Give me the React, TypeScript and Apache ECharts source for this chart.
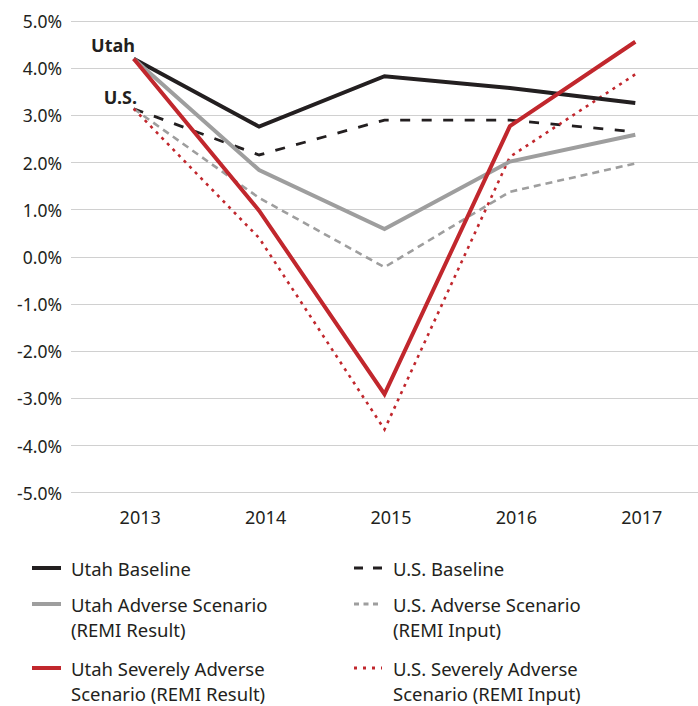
import React, { useEffect, useRef } from "react";
import * as echarts from "echarts";

const years = ["2013", "2014", "2015", "2016", "2017"];
const utahBaseline = [4.2, 2.76, 3.83, 3.58, 3.26];
const usBaseline = [3.14, 2.16, 2.9, 2.9, 2.65];
const utahAdverse = [4.2, 1.84, 0.59, 2.02, 2.59];
const usAdverse = [3.14, 1.25, -0.22, 1.38, 1.98];
const utahSevere = [4.2, 0.98, -2.91, 2.77, 4.56];
const usSevere = [3.14, 0.4, -3.66, 2.12, 3.87];

const yTicks = { min: -5, max: 5, step: 1 };

const legendLeft = ["Utah Baseline", "Utah Adverse Scenario\n(REMI Result)", "Utah Severely Adverse\nScenario (REMI Result)"];
const legendRight = ["U.S. Baseline", "U.S. Adverse Scenario\n(REMI Input)", "U.S. Severely Adverse\nScenario (REMI Input)"];

const BLACK = "#231f20";
const GRAY = "#9e9e9e";
const RED = "#c1272d";
const FONT = "'Noto Sans', sans-serif";

export default function App() {
  const ref = useRef<HTMLDivElement>(null);
  useEffect(() => {
    if (!ref.current) return;
    const chart = echarts.init(ref.current, null, { renderer: "svg" });
    const styles = [
      { name: legendLeft[0], data: utahBaseline, color: BLACK, width: 4, dash: "solid" as any },
      { name: legendLeft[1], data: utahAdverse, color: GRAY, width: 4, dash: "solid" as any },
      { name: legendLeft[2], data: utahSevere, color: RED, width: 4, dash: "solid" as any },
      { name: legendRight[0], data: usBaseline, color: BLACK, width: 2.8, dash: [10, 11.5] },
      { name: legendRight[1], data: usAdverse, color: GRAY, width: 2.6, dash: [7, 5] },
      { name: legendRight[2], data: usSevere, color: RED, width: 2.6, dash: [3, 5] },
    ];
    const order = [3, 4, 5, 0, 1, 2];
    const series = order.map((i) => {
      const s = styles[i];
      return {
        type: "line",
        name: s.name,
        data: s.data,
        symbol: "none",
        z: i < 3 ? 3 : 2,
        lineStyle: { color: s.color, width: s.width, type: s.dash, cap: "butt", join: "miter" },
      };
    });

    const legendGraphics: any[] = [];
    const rowsY = [568, 604, 668];
    const sample = (x1: number, x2: number, y: number, s: any) => ({
      type: "line",
      shape: { x1, y1: y, x2, y2: y },
      style: { stroke: s.color, lineWidth: s.dash === "solid" ? 4 : 3, lineDash: s.dash === "solid" ? null : s.dash },
    });
    const legendDash = [null, null, null, [9, 10], [5, 4.5], [3, 6]];
    for (let r = 0; r < 3; r++) {
      const y = rowsY[r];
      legendGraphics.push(sample(32, 61, y, styles[r]));
      legendGraphics.push({
        type: "text",
        x: 71,
        y: y - 12.5,
        style: { text: legendLeft[r], font: `18.5px ${FONT}`, fill: BLACK, lineHeight: 25.5, textVerticalAlign: "top" },
      });
      const s2 = { ...styles[r + 3], dash: legendDash[r + 3] };
      legendGraphics.push(sample(354, 382, y, s2));
      legendGraphics.push({
        type: "text",
        x: 393,
        y: y - 12.5,
        style: { text: legendRight[r], font: `18.5px ${FONT}`, fill: BLACK, lineHeight: 25.5, textVerticalAlign: "top" },
      });
    }
    legendGraphics.push({
      type: "text",
      x: 135,
      y: 45,
      style: { text: "Utah", font: `bold 18px ${FONT}`, fill: BLACK, textAlign: "right", textVerticalAlign: "middle" },
    });
    legendGraphics.push({
      type: "text",
      x: 137,
      y: 97,
      style: { text: "U.S.", font: `bold 18px ${FONT}`, fill: BLACK, textAlign: "right", textVerticalAlign: "middle" },
    });

    chart.setOption({
      animation: false,
      backgroundColor: "#ffffff",
      grid: { left: 71, right: -20.5, top: 21, bottom: 213.3, containLabel: false },
      xAxis: {
        type: "category",
        data: years,
        boundaryGap: true,
        axisLine: { show: false },
        axisTick: { show: false },
        axisLabel: { color: BLACK, fontFamily: FONT, fontSize: 18, margin: 15, padding: [0, 0, 0, 13] },
        splitLine: { show: false },
      },
      yAxis: {
        type: "value",
        min: yTicks.min,
        max: yTicks.max,
        interval: yTicks.step,
        axisLine: { show: false },
        axisTick: { show: false },
        axisLabel: {
          color: BLACK,
          fontFamily: FONT,
          fontSize: 17.5,
          margin: 9,
          formatter: (v: number) => `${v.toFixed(1)}%`,
        },
        splitLine: { lineStyle: { color: "#d0d0d0", width: 1.2 } },
      },
      series,
      graphic: legendGraphics,
    });
    return () => chart.dispose();
  }, []);
  return <div ref={ref} style={{ position: "fixed", left: 0, top: 0, width: 698, height: 706 }} />;
}
